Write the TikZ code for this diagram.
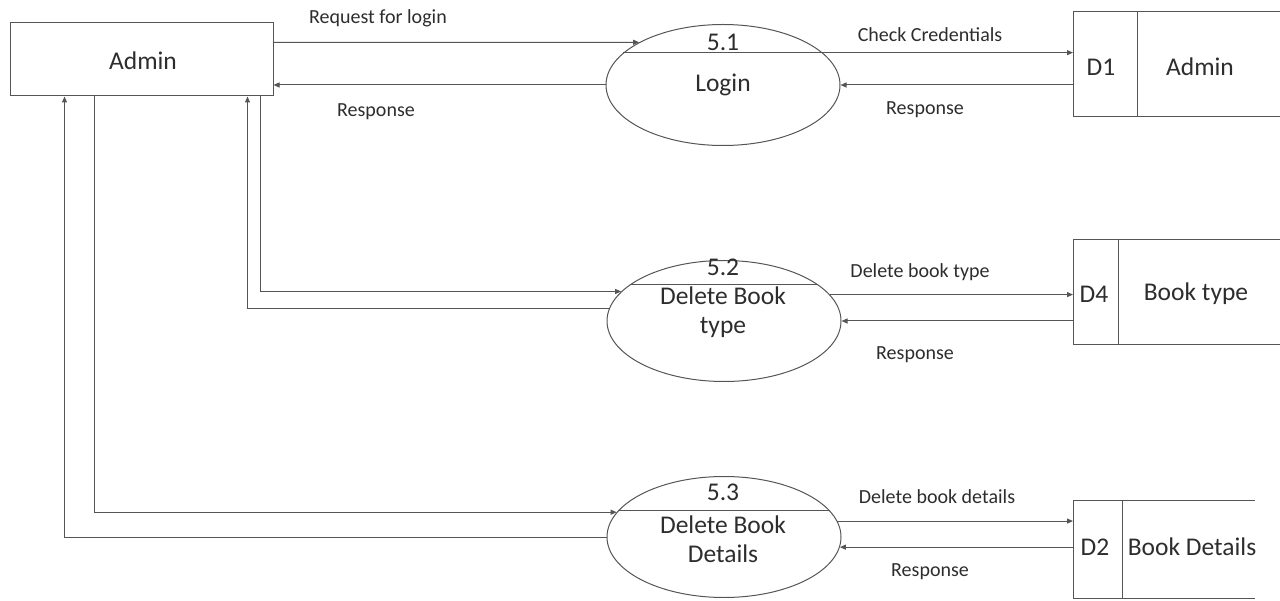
\documentclass[tikz,border=0pt]{standalone}
\usepackage{fontspec}
\setmainfont{Carlito}
\usetikzlibrary{arrows.meta,shapes.geometric}

\definecolor{trait}{RGB}{85, 85, 85}
\definecolor{encre}{RGB}{45, 45, 45}

\begin{document}
\begin{tikzpicture}[x=1pt, y=-1pt, line width=1pt, draw=trait,
  proc/.style={ellipse, draw, minimum width=234pt, minimum height=121pt},
  flow/.style={-{Triangle[length=6pt, width=5pt]}},
  big/.style={font=\fontsize{25.5}{29}\selectfont, text=encre, align=center},
  lbl/.style={font=\fontsize{20}{22}\selectfont, text=encre}]
  \useasboundingbox (0, 0) rectangle (1280, 601);

  % external entity
  \node[draw, minimum width=263pt, minimum height=73pt] (admin) at (141.5, 59.5) {};
  \node[big] (adm) at (143, 61) {Admin};

  % processes
  \node[proc] (p1) at (723, 85) {};
  \node[proc] (p2) at (724, 321) {};
  \node[proc] (p3) at (724, 537) {};
  \draw (p1.162) -- (p1.18);
  \draw (p2.159) -- (p2.21);
  \draw (p3.166) -- (p3.14);
  \node[big] (n1) at (723, 42) {5.1};
  \node[big] (t1) at (723, 85) {Login};
  \node[big] (n2) at (723, 267) {5.2};
  \node[big] (t2) at (723, 312) {Delete Book\\type};
  \node[big] (n3) at (723, 492) {5.3};
  \node[big] (t3) at (723, 539) {Delete Book\\Details};

  % data stores
  \foreach \n/\t/\b/\d/\e in {d1/12/117/1137/1280, d4/240/345/1118/1280, d2/500/598/1122/1255} {
    \draw (\e, \t) -- (1073, \t) -- (1073, \b) -- (\e, \b);
    \draw (\d, \t) -- (\d, \b);
    \coordinate (\n) at (1073, \t);
  }
  \node[big] (s1) at (1101, 67) {D1};
  \node[big] (a1) at (1200, 67) {Admin};
  \node[big] (s4) at (1094, 294) {D4};
  \node[big] (a4) at (1196, 294) {Book type};
  \node[big] (s2) at (1095, 547) {D2};
  \node[big] (a2) at (1192, 547) {Book Details};

  % flows admin <-> processes
  \draw[flow] ([yshift=-20pt]admin.north east) -- (p1.153);
  \draw[flow] (p1.west) -- (admin.east |- p1.west);
  \draw[flow] ([xshift=-13pt]admin.south east) |- (p2.164);
  \draw[flow] (p2.174) -| ([xshift=-26pt]admin.south east);
  \draw[flow] ([xshift=85pt]admin.south west) |- (p3.167);
  \draw[flow] (p3.west) -| ([xshift=55pt]admin.south west);

  % flows processes <-> stores
  \draw[flow] (p1.18) -- (d1 |- p1.18);
  \draw[flow] (d1 |- p1.east) -- (p1.east);
  \draw[flow] (p2.14) -- (d4 |- p2.14);
  \draw[flow] (d4 |- p2.east) -- (p2.east);
  \draw[flow] (p3.8) -- (d2 |- p3.8);
  \draw[flow] (d2 |- p3.-5) -- (p3.-5);

  % labels
  \node[lbl] (l1) at (378, 18) {Request for login};
  \node[lbl] (l2) at (376, 112) {Response};
  \node[lbl] (l3) at (930, 35) {Check Credentials};
  \node[lbl] (l4) at (925, 110) {Response};
  \node[lbl] (l5) at (920, 272) {Delete book type};
  \node[lbl] (l6) at (915, 355) {Response};
  \node[lbl] (l7) at (937, 497) {Delete book details};
  \node[lbl] (l8) at (930, 572) {Response};
\end{tikzpicture}
\end{document}
